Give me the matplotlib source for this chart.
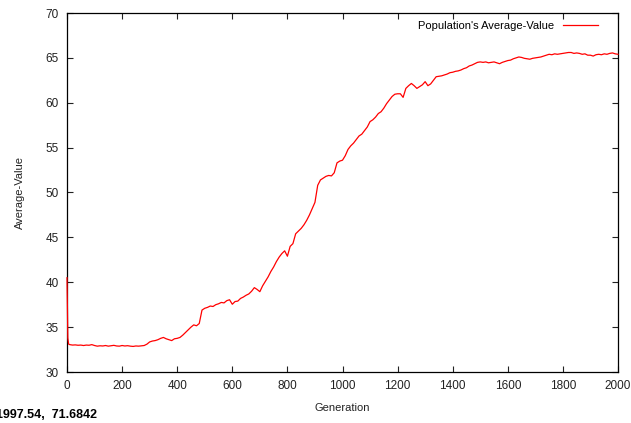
import matplotlib
matplotlib.use('Agg')
import matplotlib.pyplot as plt

plt.rcParams['font.family'] = ['Liberation Sans', 'DejaVu Sans']

# generations: a few early points, then every 10
gen_early = [0, 3, 6]
avg_early = [40.5, 33.8, 33.1]

gen_step = list(range(10, 2001, 10))
avg_step = [
    33.05, 33.0, 33.02, 32.98, 33.0, 32.95, 33.0, 32.98, 33.05, 32.95,   # 10-100
    32.88, 32.92, 32.9, 32.95, 32.88, 32.92, 32.97, 32.9, 32.88, 32.95,  # 110-200
    32.9, 32.93, 32.88, 32.85, 32.9, 32.88, 32.92, 32.95, 33.1, 33.35,   # 210-300
    33.45, 33.5, 33.6, 33.75, 33.85, 33.7, 33.6, 33.5, 33.7, 33.75,      # 310-400
    33.85, 34.1, 34.4, 34.7, 35.0, 35.25, 35.15, 35.4, 36.9, 37.1,       # 410-500
    37.2, 37.35, 37.3, 37.5, 37.6, 37.75, 37.7, 37.95, 38.05, 37.55,     # 510-600
    37.85, 37.9, 38.2, 38.35, 38.55, 38.7, 39.0, 39.4, 39.2, 38.95,      # 610-700
    39.6, 40.1, 40.6, 41.2, 41.7, 42.3, 42.8, 43.2, 43.5, 42.9,          # 710-800
    44.0, 44.3, 45.4, 45.7, 46.0, 46.4, 46.9, 47.5, 48.2, 48.9,          # 810-900
    50.8, 51.4, 51.6, 51.8, 51.9, 51.85, 52.2, 53.3, 53.5, 53.6,         # 910-1000
    54.1, 54.8, 55.2, 55.5, 55.9, 56.3, 56.5, 56.9, 57.3, 57.9,          # 1010-1100
    58.1, 58.4, 58.8, 59.0, 59.4, 59.9, 60.3, 60.7, 60.95, 61.0,         # 1110-1200
    61.0, 60.6, 61.6, 61.9, 62.15, 61.9, 61.6, 61.8, 62.0, 62.35,        # 1210-1300
    61.9, 62.1, 62.5, 62.9, 62.95, 63.0, 63.1, 63.2, 63.35, 63.4,        # 1310-1400
    63.5, 63.55, 63.65, 63.8, 63.9, 64.1, 64.2, 64.35, 64.5, 64.55,      # 1410-1500
    64.5, 64.55, 64.45, 64.5, 64.55, 64.45, 64.35, 64.5, 64.6, 64.7,     # 1510-1600
    64.75, 64.9, 65.0, 65.1, 65.05, 64.95, 64.9, 64.85, 64.95, 65.0,     # 1610-1700
    65.05, 65.1, 65.2, 65.3, 65.4, 65.35, 65.45, 65.4, 65.45, 65.5,      # 1710-1800
    65.55, 65.6, 65.6, 65.5, 65.55, 65.5, 65.4, 65.45, 65.3, 65.3,       # 1810-1900
    65.2, 65.35, 65.4, 65.35, 65.45, 65.4, 65.5, 65.55, 65.45, 65.4,     # 1910-2000
]

generations = gen_early + gen_step
avg_value = avg_early + avg_step

x_ticks = [0, 200, 400, 600, 800, 1000, 1200, 1400, 1600, 1800, 2000]
y_ticks = [30, 35, 40, 45, 50, 55, 60, 65, 70]

fig = plt.figure(figsize=(6.31, 4.23), dpi=100)
ax = fig.add_axes([67 / 631, 51 / 423, 551 / 631, 359 / 423])

# drawn above the spines (and unclipped) so the initial drop shows on the left border
ax.plot(generations, avg_value, color='#ff0000', lw=0.9, zorder=3, clip_on=False,
        label="Population's Average-Value")

ax.set_xlim(0, 2000)
ax.set_ylim(30, 70)
ax.set_xticks(x_ticks)
ax.set_yticks(y_ticks)
ax.tick_params(direction='in', length=4, width=0.8, top=True, right=True,
               labelsize=8.5, colors='#222222', pad=6)
for s in ax.spines.values():
    s.set_linewidth(0.9)

ax.set_xlabel('Generation', fontsize=8, color='#222222', labelpad=8)
ax.set_ylabel('Average-Value', fontsize=8, color='#222222', labelpad=15)

ax.legend(loc='upper right', frameon=False, markerfirst=False,
          fontsize=8, handlelength=3.2, borderaxespad=0.3,
          bbox_to_anchor=(0.978, 1.0))

# gnuplot mouse-coordinate readout, clipped at the left edge like the original
fig.text(97 / 631, 8 / 423, '1997.54,  71.6842', ha='right', va='center',
         fontsize=9, fontweight='bold', color='black')

fig.savefig('out.png', dpi=100)
